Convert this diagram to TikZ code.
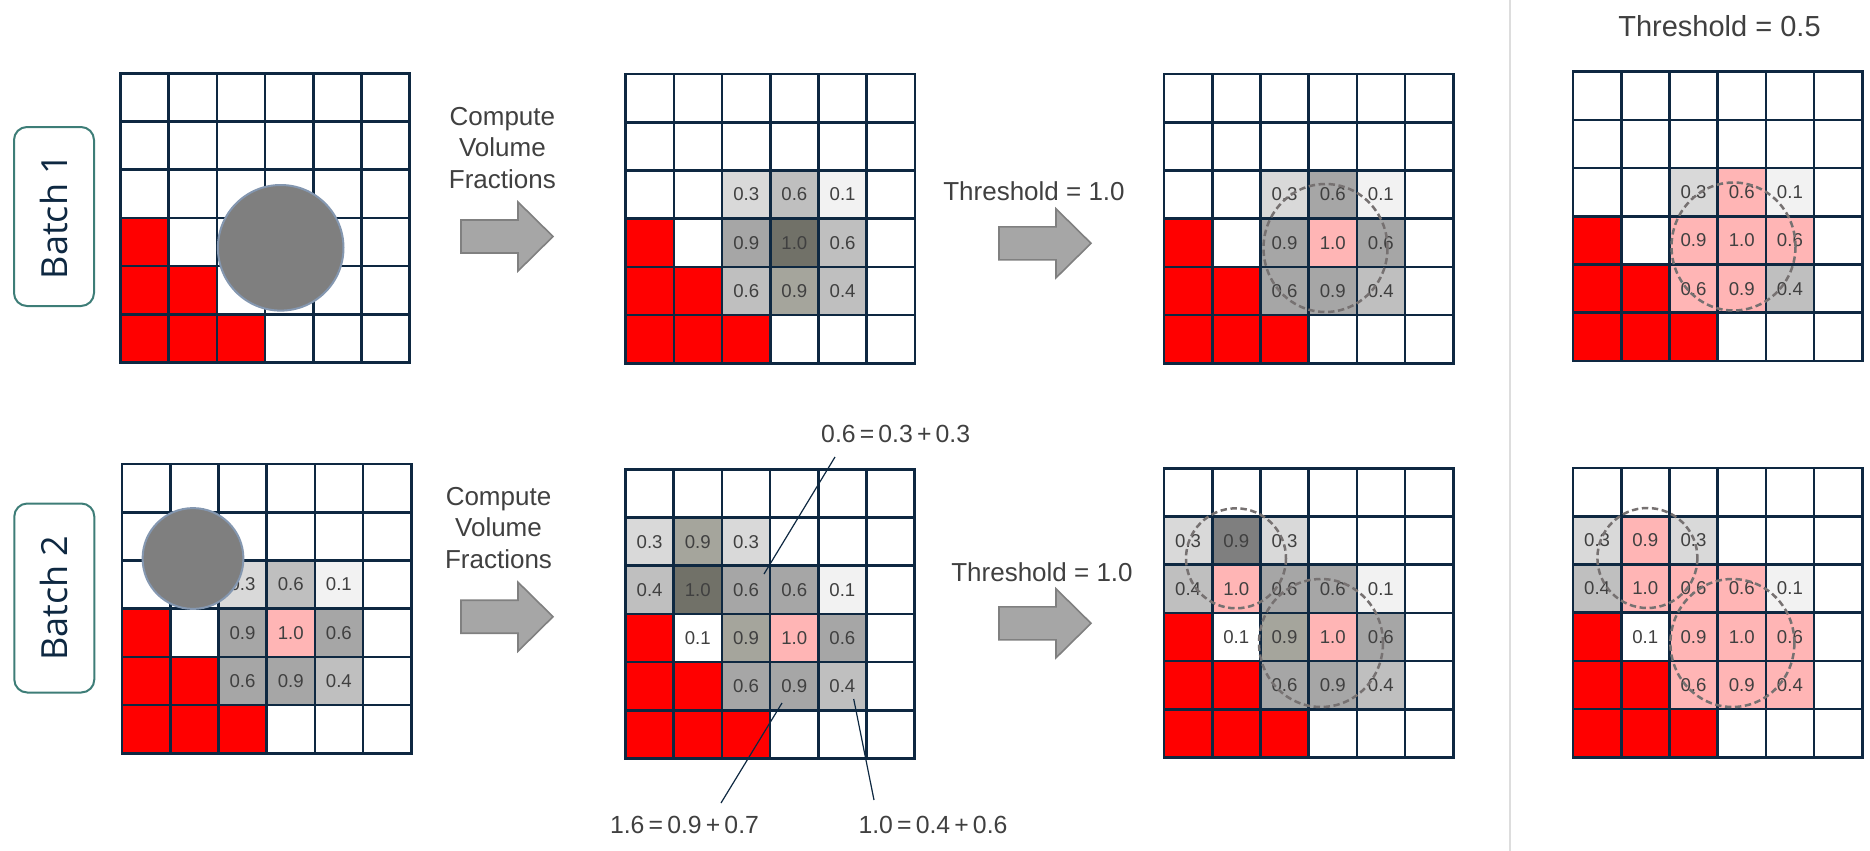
\documentclass[tikz,border=0pt]{standalone}
\usepackage{fontspec}
\setmainfont{Liberation Sans}
\newfontfamily\batchfont{Open Sans}
\definecolor{navy}{HTML}{0E2841}
\definecolor{redc}{HTML}{FF0000}
\definecolor{pinkc}{HTML}{FFB5B5}
\definecolor{ga}{HTML}{F2F2F2}
\definecolor{gb}{HTML}{D9D9D9}
\definecolor{gc}{HTML}{BFBFBF}
\definecolor{gd}{HTML}{A6A6A6}
\definecolor{ge}{HTML}{7F7F7F}
\definecolor{olv}{HTML}{A5A59C}
\definecolor{dko}{HTML}{717168}
\definecolor{txt}{HTML}{404040}
\definecolor{arrf}{HTML}{A6A6A6}
\definecolor{arrd}{HTML}{808080}
\definecolor{circd}{HTML}{8497B0}
\definecolor{dashc}{HTML}{767171}
\definecolor{tealc}{HTML}{3D7D77}
\definecolor{sepc}{HTML}{DDDDDD}

\newcommand{\gcell}[4]{\fill[#3] (#1-1,#2-1) rectangle (#1,#2);
  \node[num] (\gpre-#1-#2) at (#1-0.5,#2-0.5) {#4};}
\newcommand{\rcell}[2]{\fill[redc] (#1-1,#2-1) rectangle (#1,#2);}
\newcommand{\redcells}{\rcell14 \rcell15 \rcell25 \rcell16 \rcell26 \rcell36}
\newcommand{\glines}{\foreach \i in {0,...,6}{\draw[gl] (\i,0) -- (\i,6); \draw[gl] (0,\i) -- (6,\i);}}
\newcommand{\blockarrow}[2]{\draw[barrow] (#1,#2-16.5) -- (#1+57,#2-16.5) -- (#1+57,#2-34.5) -- (#1+92,#2) -- (#1+57,#2+34.5) -- (#1+57,#2+16.5) -- (#1,#2+16.5) -- cycle;}

\begin{document}
\begin{tikzpicture}[x=0.5pt,y=-0.5pt,
  gl/.style={draw=navy,line width=1.3pt,line cap=rect},
  num/.style={inner sep=0pt,text=txt,font=\fontsize{9.3}{11}\selectfont},
  lbl/.style={inner sep=0pt,text=txt,font=\fontsize{13}{15}\selectfont,anchor=base},
  eqlbl/.style={inner sep=0pt,text=txt,font=\fontsize{12.4}{15}\selectfont,anchor=base},
  barrow/.style={fill=arrf,draw=arrd,line width=0.8pt},
  ball/.style={fill=ge,draw=circd,line width=1pt},
  dcirc/.style={draw=dashc,line width=1.25pt,dash pattern=on 3.2pt off 1.8pt},
  batchbox/.style={draw=tealc,line width=1pt,rounded corners=6.5pt,rotate=90,inner sep=0pt,
     minimum height=40pt,text=navy,font=\batchfont\fontsize{18}{20}\selectfont},
  leader/.style={draw=navy,line width=0.6pt}]
\useasboundingbox (0,0) rectangle (1870,851);

% separator
\draw[sepc,line width=1pt] (1509.5,0) -- (1509.5,851);

% batch labels
\node[batchbox,minimum width=89.5pt] (batchA) at (54,216.5) {Batch 1};
\node[batchbox,minimum width=94.5pt] (batchB) at (54.3,598) {Batch 2};

% ---------- Grid 1
\begin{scope}[shift={(120.4,73.3)},x=24.1pt,y=-24.1pt]
\def\gpre{gA}
\redcells
\glines
\end{scope}
\draw[ball] (280.7,247.8) circle [radius=62.8];

% ---------- Grid 2
\begin{scope}[shift={(625.7,74)},x=24.1pt,y=-24.1pt]
\def\gpre{gB}
\redcells
\gcell33{gb}{0.3}\gcell43{gc}{0.6}\gcell53{ga}{0.1}
\gcell34{gd}{0.9}\gcell44{dko}{1.0}\gcell54{gc}{0.6}
\gcell35{gc}{0.6}\gcell45{olv}{0.9}\gcell55{gc}{0.4}
\glines
\end{scope}

% ---------- Grid 3
\begin{scope}[shift={(1164,74)},x=24.1pt,y=-24.1pt]
\def\gpre{gC}
\redcells
\gcell33{gb}{0.3}\gcell43{gd}{0.6}\gcell53{ga}{0.1}
\gcell34{gd}{0.9}\gcell44{pinkc}{1.0}\gcell54{gd}{0.6}
\gcell35{gd}{0.6}\gcell45{gd}{0.9}\gcell55{gc}{0.4}
\glines
\end{scope}
\draw[dcirc] (1325.5,248) circle [x radius=62, y radius=64];

% ---------- Grid 4
\begin{scope}[shift={(1573,71.7)},x=24.1pt,y=-24.1pt]
\def\gpre{gD}
\redcells
\gcell33{gb}{0.3}\gcell43{pinkc}{0.6}\gcell53{ga}{0.1}
\gcell34{pinkc}{0.9}\gcell44{pinkc}{1.0}\gcell54{pinkc}{0.6}
\gcell35{pinkc}{0.6}\gcell45{pinkc}{0.9}\gcell55{gc}{0.4}
\glines
\end{scope}
\draw[dcirc] (1733.5,246.5) circle [x radius=62, y radius=64];

% ---------- Grid 5
\begin{scope}[shift={(122,464)},x=24.1pt,y=-24.1pt]
\def\gpre{gE}
\redcells
\gcell33{gb}{0.3}\gcell43{gc}{0.6}\gcell53{ga}{0.1}
\gcell34{gd}{0.9}\gcell44{pinkc}{1.0}\gcell54{gd}{0.6}
\gcell35{gd}{0.6}\gcell45{gd}{0.9}\gcell55{gc}{0.4}
\glines
\end{scope}
\draw[ball] (193,558.5) circle [radius=50.4];

% ---------- Grid 6
\begin{scope}[shift={(625.5,469.3)},x=24.1pt,y=-24.1pt]
\def\gpre{gF}
\redcells
\gcell12{gb}{0.3}\gcell22{olv}{0.9}\gcell32{gb}{0.3}
\gcell13{gc}{0.4}\gcell23{dko}{1.0}\gcell33{gd}{0.6}\gcell43{gd}{0.6}\gcell53{ga}{0.1}
\gcell24{white}{0.1}\gcell34{olv}{0.9}\gcell44{pinkc}{1.0}\gcell54{gd}{0.6}
\gcell35{gd}{0.6}\gcell45{gd}{0.9}\gcell55{gc}{0.4}
\glines
\end{scope}

% ---------- Grid 7
\begin{scope}[shift={(1164,468.3)},x=24.1pt,y=-24.1pt]
\def\gpre{gG}
\redcells
\gcell12{gb}{0.3}\gcell22{ge}{0.9}\gcell32{gb}{0.3}
\gcell13{gc}{0.4}\gcell23{pinkc}{1.0}\gcell33{gd}{0.6}\gcell43{gd}{0.6}\gcell53{ga}{0.1}
\gcell24{white}{0.1}\gcell34{olv}{0.9}\gcell44{pinkc}{1.0}\gcell54{gd}{0.6}
\gcell35{gd}{0.6}\gcell45{gd}{0.9}\gcell55{gc}{0.4}
\glines
\end{scope}
\draw[dcirc] (1236,558.3) circle [radius=50];
\draw[dcirc] (1321,643) circle [x radius=62, y radius=64];

% ---------- Grid 8
\begin{scope}[shift={(1573,468)},x=24.1pt,y=-24.1pt]
\def\gpre{gH}
\redcells
\gcell12{gb}{0.3}\gcell22{pinkc}{0.9}\gcell32{gb}{0.3}
\gcell13{gc}{0.4}\gcell23{pinkc}{1.0}\gcell33{pinkc}{0.6}\gcell43{pinkc}{0.6}\gcell53{ga}{0.1}
\gcell24{white}{0.1}\gcell34{pinkc}{0.9}\gcell44{pinkc}{1.0}\gcell54{pinkc}{0.6}
\gcell35{pinkc}{0.6}\gcell45{pinkc}{0.9}\gcell55{pinkc}{0.4}
\glines
\end{scope}
\draw[dcirc] (1647.4,558) circle [radius=50];
\draw[dcirc] (1732.4,643) circle [x radius=62, y radius=64];

% ---------- arrows
\blockarrow{461}{236.5}
\blockarrow{461}{616.7}
\blockarrow{999}{243.3}
\blockarrow{999}{623.3}

% ---------- text labels
\node[lbl] (cvfA1) at (502.4,125) {Compute};
\node[lbl] (cvfA2) at (502.4,156.5) {Volume};
\node[lbl] (cvfA3) at (502.4,188) {Fractions};
\node[lbl] (cvfB1) at (498.5,505) {Compute};
\node[lbl] (cvfB2) at (498.5,536.5) {Volume};
\node[lbl] (cvfB3) at (498.5,568) {Fractions};
\node[lbl] (thrA) at (1034,200.7) {Threshold = 1.0};
\node[lbl] (thrB) at (1042,581.7) {Threshold = 1.0};
\node[lbl,font=\fontsize{14.5}{17}\selectfont] (thrC) at (1719.5,36) {Threshold = 0.5};

% ---------- equation labels with leader lines
\node[eqlbl] (eqA) at (895.7,442.7) {0.6\,=\,0.3\,+\,0.3};
\node[eqlbl] (eqB) at (684.5,833.3) {1.6\,=\,0.9\,+\,0.7};
\node[eqlbl] (eqC) at (933,833.3) {1.0\,=\,0.4\,+\,0.6};
\coordinate (eqAs) at (835,457);
\coordinate (eqAe) at (764,574);
\coordinate (eqBs) at (721,803);
\coordinate (eqBe) at (782,703);
\coordinate (eqCs) at (874,800);
\coordinate (eqCe) at (853.7,699);
\draw[leader] (eqAs) -- (eqAe);
\draw[leader] (eqBs) -- (eqBe);
\draw[leader] (eqCs) -- (eqCe);
\end{tikzpicture}
\end{document}
